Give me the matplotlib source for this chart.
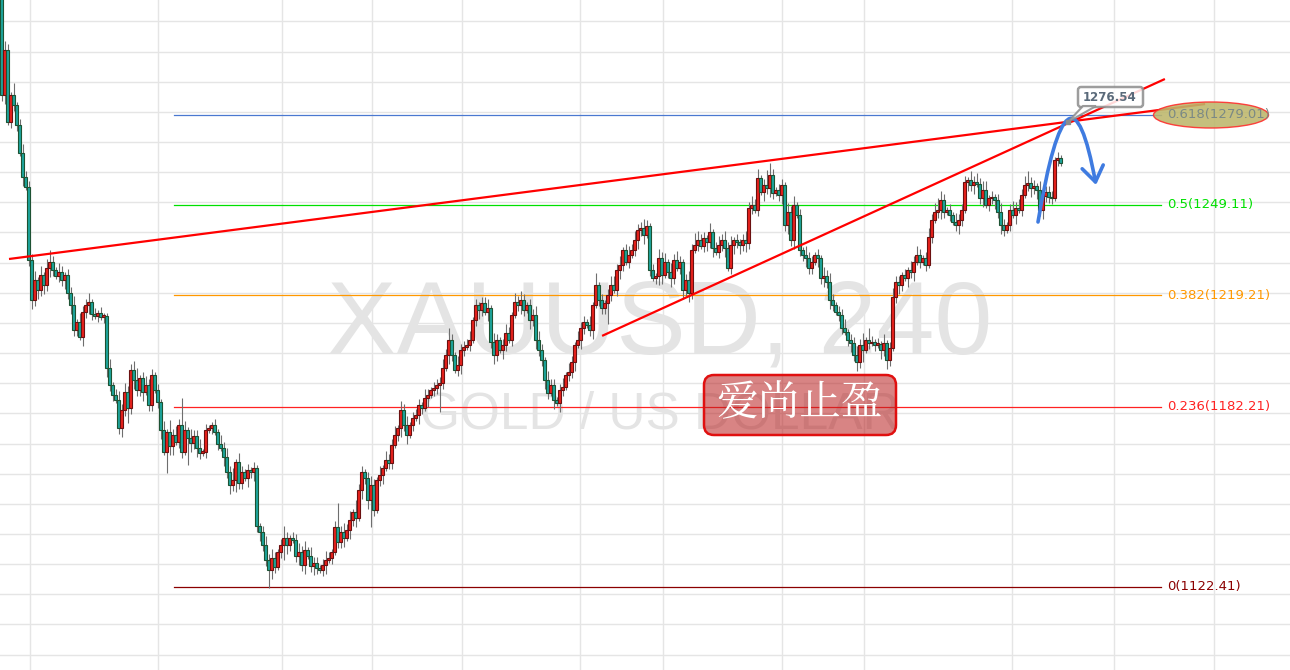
import matplotlib.pyplot as plt
from matplotlib.patches import FancyBboxPatch, Ellipse, Polygon, FancyArrowPatch
from matplotlib.path import Path
import numpy as np

# XAUUSD 4h candles (close prices, left to right)
first_open = 1320.0
closes = [
    1285.6, 1300.5, 1276.6, 1285.6, 1282.3, 1275.6, 1266.4, 1258.4, 1255.1, 1230.9,
    1217.6, 1224.2, 1220.9, 1225.9, 1222.6, 1228.2, 1230.2, 1227.5, 1225.6, 1226.9,
    1224.2, 1225.9, 1219.9, 1215.9, 1207.6, 1210.3, 1205.3, 1213.6, 1215.9, 1216.9,
    1212.9, 1212.3, 1213.3, 1212.0, 1212.3, 1195.0, 1189.4, 1186.1, 1184.4, 1175.1,
    1181.1, 1187.1, 1181.8, 1194.4, 1191.1, 1187.7, 1191.7, 1187.1, 1189.4, 1182.8,
    1192.7, 1187.7, 1183.8, 1174.5, 1167.2, 1173.8, 1169.2, 1172.8, 1170.5, 1176.1,
    1167.2, 1174.5, 1171.8, 1170.2, 1172.5, 1168.5, 1166.9, 1167.2, 1174.5, 1175.1,
    1176.1, 1173.8, 1169.8, 1168.5, 1165.5, 1160.5, 1156.2, 1157.9, 1163.9, 1156.9,
    1160.5, 1158.6, 1161.2, 1160.5, 1161.9, 1142.6, 1140.6, 1136.3, 1131.4, 1128.0,
    1132.0, 1129.0, 1134.0, 1136.3, 1138.7, 1136.3, 1138.7, 1138.0, 1132.7, 1134.0,
    1129.7, 1134.7, 1132.7, 1129.4, 1130.4, 1128.7, 1128.0, 1129.7, 1131.4, 1132.0,
    1134.0, 1142.3, 1137.3, 1140.6, 1138.7, 1141.3, 1144.6, 1147.3, 1145.3, 1154.6,
    1160.5, 1158.6, 1151.3, 1156.2, 1147.9, 1157.9, 1159.6, 1161.9, 1164.5, 1163.5,
    1169.5, 1172.8, 1175.1, 1181.1, 1176.1, 1172.8, 1176.1, 1178.5, 1179.5, 1182.8,
    1181.8, 1185.1, 1186.1, 1187.7, 1188.4, 1189.4, 1190.1, 1195.0, 1199.4, 1204.3,
    1199.4, 1194.4, 1196.0, 1201.0, 1202.0, 1202.7, 1204.3, 1211.0, 1215.9, 1214.3,
    1216.6, 1213.6, 1214.9, 1203.7, 1199.4, 1204.3, 1201.0, 1202.7, 1206.7, 1204.3,
    1212.6, 1216.9, 1215.9, 1217.6, 1214.3, 1215.9, 1211.0, 1212.6, 1204.3, 1201.0,
    1197.7, 1191.1, 1186.8, 1189.4, 1184.4, 1183.4, 1187.7, 1188.7, 1192.7, 1193.7,
    1197.0, 1202.7, 1204.3, 1208.3, 1210.3, 1209.3, 1207.6, 1215.9, 1222.6, 1217.6,
    1214.9, 1216.6, 1219.3, 1222.6, 1220.9, 1227.5, 1229.2, 1234.2, 1230.2, 1232.5,
    1234.2, 1237.5, 1240.8, 1241.5, 1239.2, 1242.1, 1227.5, 1224.9, 1225.6, 1231.5,
    1225.9, 1230.2, 1226.9, 1224.9, 1230.9, 1228.2, 1230.2, 1220.9, 1224.2, 1219.9,
    1234.2, 1235.8, 1237.5, 1235.5, 1238.2, 1236.8, 1240.1, 1234.8, 1233.5, 1235.8,
    1237.5, 1234.8, 1228.2, 1235.8, 1237.5, 1236.8, 1235.8, 1237.5, 1236.5, 1248.1,
    1249.1, 1247.4, 1258.1, 1253.4, 1255.7, 1254.7, 1259.1, 1253.1, 1254.1, 1252.4,
    1255.7, 1242.5, 1246.8, 1237.5, 1249.1, 1245.8, 1234.2, 1232.5, 1231.5, 1228.2,
    1230.2, 1232.5, 1231.5, 1224.9, 1225.6, 1223.6, 1217.6, 1215.9, 1213.6, 1212.6,
    1208.3, 1207.0, 1204.3, 1203.3, 1199.4, 1197.0, 1202.7, 1201.0, 1204.3, 1203.3,
    1203.7, 1202.7, 1203.0, 1201.0, 1203.3, 1197.7, 1201.7, 1218.6, 1223.6, 1222.6,
    1225.9, 1224.9, 1227.5, 1226.9, 1230.2, 1232.5, 1230.2, 1231.5, 1229.2, 1238.5,
    1244.1, 1246.8, 1247.4, 1250.8, 1246.8, 1247.4, 1245.8, 1243.5, 1242.5, 1244.1,
    1247.4, 1256.7, 1257.4, 1255.7, 1256.7, 1256.1, 1251.4, 1254.1, 1249.1, 1251.4,
    1251.8, 1250.8, 1246.8, 1242.5, 1240.8, 1242.5, 1247.4, 1245.8, 1248.1, 1247.4,
    1252.4, 1255.7, 1256.4, 1254.7, 1255.4, 1254.1, 1247.4, 1252.1, 1253.4, 1251.8,
    1251.4, 1264.0, 1264.7, 1263.0,
]
# wick lengths beyond the body, in dollars, one digit per candle
upper_wicks = ("0321412322" "2313134213" "2122313223" "1212113123" "2322341232"
               "2121314232" "9313223121" "1213232413" "2121211232" "3212421223"
               "2313221232" "1282323142" "2123213132" "2313231222" "1321222324"
               "2132223121" "2231321232" "1323212233" "2132212313" "2132213141"
               "2123323123" "2322321213" "2313232123" "2432213123" "2323121232"
               "3231254212" "2132312132" "2121323212" "2312232414" "2121312322"
               "1213232123" "2343212132" "2213232331" "2123212323" "2342213122"
               "2121")
lower_wicks = ("2312221312" "3232323212" "2323221323" "2121232212" "3252322312"
               "2123173312" "2193232121" "2121323242" "2132323226" "3212532123"
               "2312321231" "2122313231" "3239212312" "2123231213" "2131229213"
               "2123212123" "2132321321" "2123213232" "2321313212" "2313212312"
               "2272123212" "1232312123" "3123212323" "2121232312" "2312323232"
               "2121323212" "3232312232" "2132323212" "2123232412" "1213232123"
               "2132312121" "2123212123" "2132312312" "2323212131" "2123232322"
               "2121")

fib_zero, fib_one = 1122.41, 1375.81
fib_ratios = [0, 0.236, 0.382, 0.5, 0.618]
fib_colors = ["#8b0000", "#ff2222", "#ff9800", "#00e000", "#4a78d0"]

# drawing tools: (candle index, price)
trend_upper = [(3.0, 1231.2), (401.7, 1282.6)]
trend_lower = [(200.7, 1205.7), (388.3, 1290.9)]
marker_price = 1276.54

Y_TOP, Y_BOT = 1317.10, 1094.88


def px(x):
    return x / 3.0


def py(y):
    return Y_TOP - y / 3.015


def inch(x, y):
    return x / 100.0, (670 - y) / 100.0


fig = plt.figure(figsize=(12.9, 6.7), dpi=100)
ax = fig.add_axes([0, 0, 1, 1])
ax.set_xlim(0, 430)
ax.set_ylim(Y_BOT, Y_TOP)
ax.axis("off")

# grid
for p in np.arange(1100, 1320, 10):
    ax.axhline(p, color="#e5e5e5", lw=1, zorder=0)
for gx in [30, 158, 282, 372, 462, 580, 663, 782, 864, 1012, 1114, 1214]:
    ax.axvline(px(gx), color="#e5e5e5", lw=1, zorder=0)

# watermark
ax.text(px(660), py(327), "XAUUSD, 240", fontsize=75, color="#e4e4e4",
        ha="center", va="center", family="Liberation Sans", zorder=1)
ax.text(px(660), py(415), "GOLD / US DOLLAR", fontsize=37, color="#e4e4e4",
        ha="center", va="center", family="Liberation Sans", zorder=1)

# fibonacci retracement
for r, c in zip(fib_ratios, fib_colors):
    lvl = fib_zero + r * (fib_one - fib_zero)
    ax.plot([px(174), px(1161)], [lvl, lvl], color=c, lw=0.9, zorder=2)
    ax.text(px(1167), lvl, f"{r:g}({lvl:.2f})", color=c if r != 0.618 else "#7b8985",
            fontsize=9.5, va="center", ha="left", zorder=8)

# candles
closes = np.array(closes)
opens = np.r_[first_open, closes[:-1]]
up_w = np.array([int(ch) for ch in upper_wicks])
lo_w = np.array([int(ch) for ch in lower_wicks])
highs = np.maximum(opens, closes) + up_w
lows = np.minimum(opens, closes) - lo_w
xs = np.arange(len(closes)) + 0.5
rising = closes >= opens

ax.vlines(xs, lows, highs, color="#6e6e6e", lw=0.8, zorder=3)
ax.bar(xs, np.maximum(np.abs(closes - opens), 0.5), bottom=np.minimum(opens, closes),
       width=0.85, color=np.where(rising, "#e8211c", "#1ca59c"),
       edgecolor=np.where(rising, "#6b1010", "#1d5233"), linewidth=0.8, zorder=4)

# trend lines
for line in (trend_upper, trend_lower):
    (x0, y0), (x1, y1) = line
    ax.plot([x0, x1], [y0, y1], color="#ff0000", lw=1.6, zorder=5,
            solid_capstyle="butt")

# ellipse highlight on 0.618
ell = Ellipse(inch(1211, 115), 1.15, 0.26, transform=fig.dpi_scale_trans,
              fc="#bdb76b", ec="#ff2a2a", lw=1, alpha=0.88, zorder=6)
ax.add_patch(ell)

# projected path (blue arc)
p0 = (px(1038), py(222))
c0 = (px(1069), py(37))
p2 = (px(1096), py(185))
arc = FancyArrowPatch(path=Path([p0, c0, p2], [Path.MOVETO, Path.CURVE3, Path.CURVE3]),
                      arrowstyle="->,head_length=0.5,head_width=0.35",
                      mutation_scale=22, color="#3f7be0", lw=2.6, zorder=9)
ax.add_patch(arc)

# price callout
mx, my = 356.0, marker_price
box = FancyBboxPatch(inch(1078, 107), 0.65, 0.20, boxstyle="round,pad=0,rounding_size=0.03",
                     transform=fig.dpi_scale_trans, fc="white", ec="#8c8c8c", lw=1.8,
                     alpha=0.85, zorder=10)
ax.add_patch(box)
tail = Polygon([inch(1083, 106), inch(1068, 122), inch(1096, 106)],
               closed=True, transform=fig.dpi_scale_trans, fc="white", ec="#8c8c8c",
               lw=1.5, alpha=0.85, zorder=10)
ax.add_patch(tail)
ax.plot([mx], [my], marker="s", ms=3, color="#8c8c8c", zorder=11)
ax.text(px(1110), py(97), f"{marker_price:.2f}", fontsize=8.5, fontweight="bold",
        color="#5a6a7a", ha="center", va="center", zorder=11)

# stamp
stamp = FancyBboxPatch(inch(704, 435), 1.92, 0.60, boxstyle="round,pad=0,rounding_size=0.1",
                       transform=fig.dpi_scale_trans, fc=(0.72, 0.12, 0.12, 0.55),
                       ec="#e01010", lw=1.8, zorder=12)
ax.add_patch(stamp)
ax.text(px(800), py(404), "爱尚止盈", fontsize=30, color="white", ha="center", va="center",
        family=["Noto Serif CJK SC", "Noto Sans CJK SC", "DejaVu Sans"], zorder=13)

fig.savefig("out.png", dpi=100)
